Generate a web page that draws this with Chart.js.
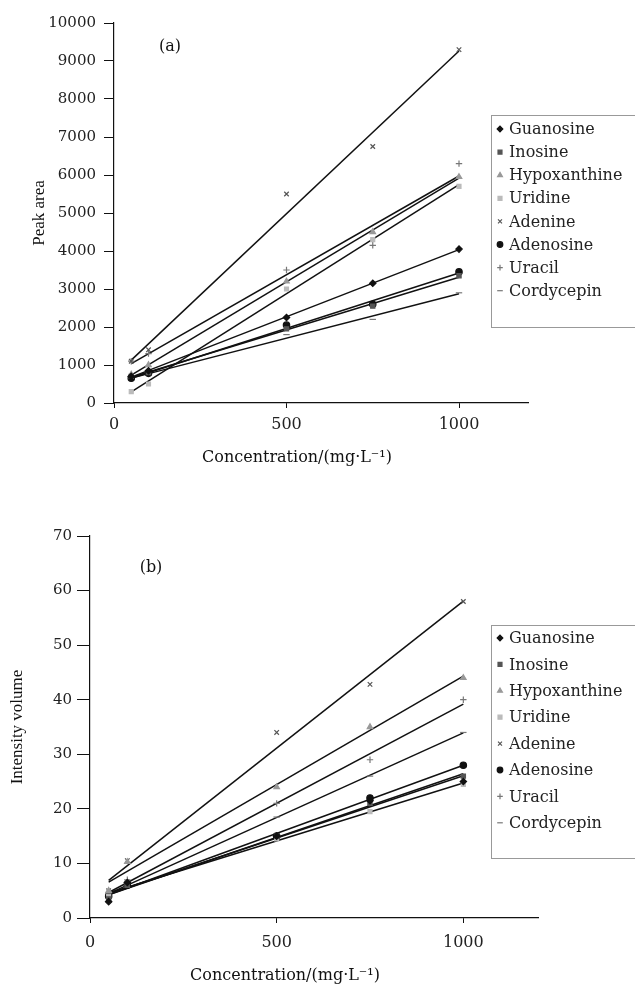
<!DOCTYPE html>
<html>
<head>
<meta charset="utf-8">
<script src="https://cdn.jsdelivr.net/npm/chart.js@4.4.1/dist/chart.umd.min.js"></script>
<style>
  html, body { margin: 0; padding: 0; background: #fff; }
  .panel { position: absolute; left: 0; width: 635px; }
  #wrapA { top: 0; height: 490px; }
  #wrapB { top: 490px; height: 495px; }
</style>
</head>
<body>
<div class="panel" id="wrapA"><canvas id="chartA" width="635" height="490"></canvas></div>
<div class="panel" id="wrapB"><canvas id="chartB" width="635" height="495"></canvas></div>
<script>
// concentration of the standards, mg/L
const concentrations = [50, 100, 500, 750, 1000];
const compounds = ['Guanosine', 'Inosine', 'Hypoxanthine', 'Uridine', 'Adenine', 'Adenosine', 'Uracil', 'Cordycepin'];

// (a) peak area, one array per compound
const guanosineA    = [700, 850, 2250, 3150, 4050];
const inosineA      = [700, 800, 1950, 2550, 3350];
const hypoxanthineA = [750, 1000, 3200, 4500, 5950];
const uridineA      = [300, 500, 3000, 4300, 5700];
const adenineA      = [1100, 1400, 5500, 6750, 9300];
const adenosineA    = [650, 780, 2050, 2600, 3450];
const uracilA       = [1100, 1300, 3500, 4150, 6300];
const cordycepinA   = [650, 750, 1800, 2200, 2900];

// (b) intensity volume
const guanosineB    = [3, 6.5, 15, 21.5, 25];
const inosineB      = [3.5, 6, 15, 21, 26];
const hypoxanthineB = [5, 10.3, 24, 35, 44];
const uridineB      = [4, 6, 14.5, 19.5, 24.5];
const adenineB      = [5, 10.5, 34, 42.8, 58];
const adenosineB    = [4, 6, 15, 22, 28];
const uracilB       = [4.5, 7, 21, 29, 40];
const cordycepinB   = [4, 6.5, 18.5, 26, 34];

// tick labels
const xTicks = [0, 500, 1000];
const yTicksA = [0, 1000, 2000, 3000, 4000, 5000, 6000, 7000, 8000, 9000, 10000];
const yTicksB = [0, 10, 20, 30, 40, 50, 60, 70];

// marker look for each compound (same order as compounds)
const markers = [
  { style: 'rectRot', color: '#111', r: 3.2 },
  { style: 'rect', color: '#555', r: 3 },
  { style: 'triangle', color: '#999', r: 3.2 },
  { style: 'rect', color: '#bbb', r: 2.8 },
  { style: 'crossRot', color: '#555', r: 3.2 },
  { style: 'circle', color: '#111', r: 3.2 },
  { style: 'cross', color: '#777', r: 3.2 },
  { style: 'line', color: '#777', r: 3.2 }
];

const serif = '"DejaVu Serif", serif';

// least squares line through one series
function fitLine(xs, ys) {
  const n = xs.length;
  const mx = xs.reduce((a, b) => a + b, 0) / n;
  const my = ys.reduce((a, b) => a + b, 0) / n;
  let sxy = 0, sxx = 0;
  xs.forEach((x, i) => { sxy += (x - mx) * (ys[i] - my); sxx += (x - mx) * (x - mx); });
  const k = sxy / sxx;
  return x => my + k * (x - mx);
}

function buildDatasets(seriesList) {
  const points = [];
  const lines = [];
  seriesList.forEach((ys, i) => {
    const m = markers[i];
    points.push({
      label: compounds[i],
      data: concentrations.map((x, j) => ({ x: x, y: ys[j] })),
      showLine: false,
      pointStyle: m.style,
      pointRadius: m.r,
      pointBackgroundColor: m.color,
      pointBorderColor: m.color,
      pointBorderWidth: 1.2,
      order: 1
    });
    const f = fitLine(concentrations, ys);
    const x0 = concentrations[0], x1 = concentrations[concentrations.length - 1];
    lines.push({
      label: compounds[i] + ' fit',
      isFit: true,
      data: [{ x: x0, y: f(x0) }, { x: x1, y: f(x1) }],
      showLine: true,
      borderColor: '#111',
      borderWidth: 1.5,
      pointRadius: 0,
      order: 2
    });
  });
  return points.concat(lines);
}

// titles, panel letter and the boxed legend
const decorations = {
  id: 'decorations',
  afterDraw(chart, args, o) {
    const ctx = chart.ctx;
    const area = chart.chartArea;
    ctx.save();
    ctx.fillStyle = '#111';
    ctx.textAlign = 'center';
    ctx.textBaseline = 'middle';
    ctx.font = '16px ' + serif;
    ctx.fillText(o.panel, o.panelX, o.panelY);
    ctx.fillText('Concentration/(mg\u00b7L\u207b\u00b9)', o.xTitleX, o.xTitleY);
    ctx.save();
    ctx.translate(o.yTitleX, (area.top + area.bottom) / 2);
    ctx.rotate(-Math.PI / 2);
    ctx.font = '17px "Liberation Serif", serif';
    ctx.fillText(o.yTitle, 0, 0);
    ctx.restore();

    // legend
    const lg = o.legend;
    ctx.fillStyle = '#fff';
    ctx.fillRect(lg.left, lg.top, 200, lg.bottom - lg.top);
    ctx.strokeStyle = '#999';
    ctx.lineWidth = 1;
    ctx.strokeRect(lg.left + 0.5, lg.top + 0.5, 200, lg.bottom - lg.top);
    ctx.textAlign = 'left';
    ctx.font = '16px ' + serif;
    chart.data.datasets.filter(d => !d.isFit).forEach((d, i) => {
      const y = lg.first + i * lg.step;
      const m = markers[i];
      ctx.fillStyle = m.color;
      ctx.strokeStyle = m.color;
      ctx.lineWidth = 1.2;
      if (Chart.helpers && Chart.helpers.drawPoint) {
        Chart.helpers.drawPoint(ctx, { pointStyle: m.style, radius: 2.8, rotation: 0, borderWidth: 1.2 }, lg.markerX, y);
      } else {
        ctx.fillRect(lg.markerX - 2.5, y - 2.5, 5, 5);
      }
      ctx.fillStyle = '#222';
      ctx.fillText(d.label, lg.textX, y + 1);
    });
    ctx.restore();
  }
};

function makeChart(canvasId, seriesList, cfg) {
  return new Chart(document.getElementById(canvasId).getContext('2d'), {
    type: 'scatter',
    data: { datasets: buildDatasets(seriesList) },
    options: {
      responsive: false,
      animation: false,
      layout: { padding: { left: 0, right: cfg.padRight, top: cfg.padTop, bottom: 0 } },
      plugins: {
        legend: { display: false },
        tooltip: { enabled: false },
        decorations: cfg.deco
      },
      scales: {
        x: {
          type: 'linear',
          min: 0,
          max: 1200,
          afterFit: s => { s.height = cfg.xHeight; },
          afterBuildTicks: s => { s.ticks = xTicks.map(v => ({ value: v })); },
          border: { display: true, color: '#111', width: 1.2 },
          grid: { drawOnChartArea: false, drawTicks: true, tickLength: 5, color: '#111', lineWidth: 1 },
          ticks: { color: '#222', font: { family: serif, size: 16 }, padding: cfg.xPad, maxRotation: 0, callback: v => String(v) }
        },
        y: {
          type: 'linear',
          min: cfg.yTicks[0],
          max: cfg.yTicks[cfg.yTicks.length - 1],
          afterFit: s => { s.width = cfg.yWidth; },
          afterBuildTicks: s => { s.ticks = cfg.yTicks.map(v => ({ value: v })); },
          border: { display: true, color: '#111', width: 1.2 },
          grid: { drawOnChartArea: false, drawTicks: true, tickLength: cfg.yTickLen, color: '#111', lineWidth: 1 },
          ticks: { color: '#222', font: { family: serif, size: 15 }, padding: cfg.yPad, callback: v => String(v) }
        }
      }
    },
    plugins: [decorations]
  });
}

document.addEventListener('DOMContentLoaded', function() {
  makeChart('chartA',
    [guanosineA, inosineA, hypoxanthineA, uridineA, adenineA, adenosineA, uracilA, cordycepinA],
    {
      padRight: 107, padTop: 23, xHeight: 87, yWidth: 114,
      yTicks: yTicksA, yTickLen: 10, yPad: 8, xPad: 7,
      deco: {
        panel: '(a)', panelX: 170, panelY: 47,
        xTitleX: 297, xTitleY: 458,
        yTitle: 'Peak area', yTitleX: 40,
        legend: { left: 491, top: 115, bottom: 327, first: 129, step: 23.1, markerX: 500, textX: 509 }
      }
    });

  makeChart('chartB',
    [guanosineB, inosineB, hypoxanthineB, uridineB, adenineB, adenosineB, uracilB, cordycepinB],
    {
      padRight: 97, padTop: 46, xHeight: 67, yWidth: 90,
      yTicks: yTicksB, yTickLen: 13, yPad: 5, xPad: 10,
      deco: {
        panel: '(b)', panelX: 151, panelY: 78,
        xTitleX: 285, xTitleY: 486,
        yTitle: 'Intensity volume', yTitleX: 18,
        legend: { left: 491, top: 135, bottom: 368, first: 148, step: 26.4, markerX: 500, textX: 509 }
      }
    });
});
</script>
</body>
</html>
